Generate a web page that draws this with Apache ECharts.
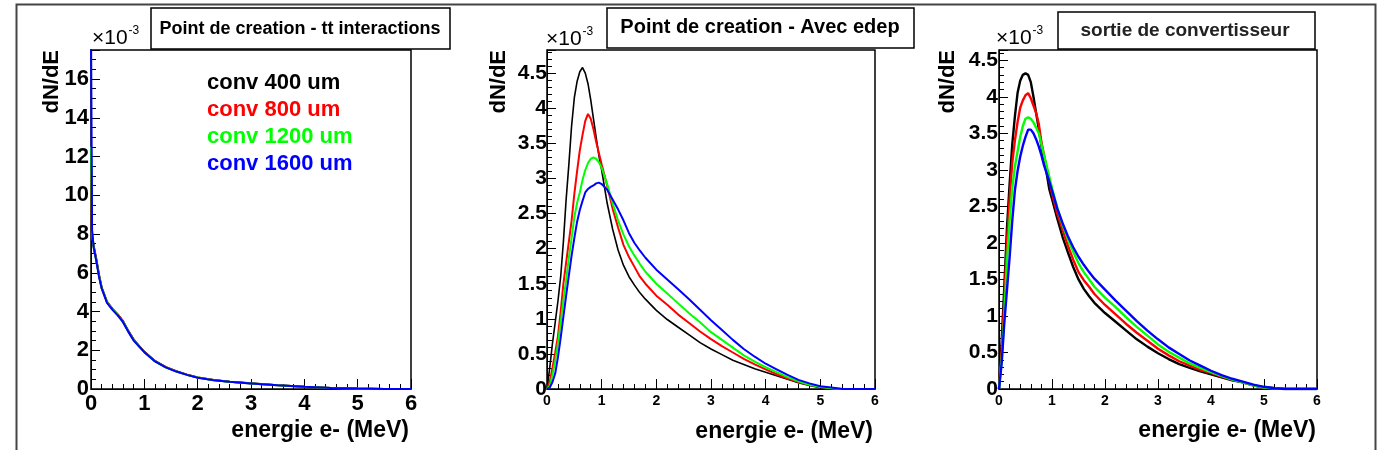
<!DOCTYPE html>
<html>
<head>
<meta charset="utf-8">
<script src="https://cdn.jsdelivr.net/npm/echarts@6/dist/echarts.min.js"></script>
<style>html,body{margin:0;padding:0;background:#fff;}#c{width:1378px;height:450px;}</style>
</head>
<body>
<div id="c"></div>
<script>
// ---------- DATA (values in units of 1e-3) ----------
const seriesNames = ['conv 400 um', 'conv 800 um', 'conv 1200 um', 'conv 1600 um'];
const seriesColors = ['#000000', '#ff0000', '#00ff00', '#0000ff'];
const panelTitles = ['Point de creation - tt interactions', 'Point de creation - Avec edep', 'sortie de convertisseur'];
const xTickLabels = ['0', '1', '2', '3', '4', '5', '6'];

// Panel 1 : Point de creation - tt interactions
const x1 = [0, 0.02, 0.05, 0.1, 0.15, 0.2, 0.3, 0.4, 0.5, 0.6, 0.7, 0.8, 0.9, 1.0, 1.2, 1.4, 1.6, 1.8, 2.0, 2.3, 2.6, 3.0, 3.5, 4.0, 4.5, 5.0, 5.5, 6.0];
const p1_400  = [12.3, 8.0, 7.4, 6.7, 5.9, 5.25, 4.5, 4.15, 3.85, 3.5, 3.0, 2.55, 2.22, 1.92, 1.45, 1.13, 0.92, 0.74, 0.6, 0.46, 0.38, 0.3, 0.2, 0.11, 0.05, 0.02, 0, 0];
const p1_800  = [11.3, 7.9, 7.35, 6.65, 5.85, 5.2, 4.5, 4.12, 3.85, 3.5, 2.98, 2.55, 2.22, 1.92, 1.44, 1.14, 0.91, 0.74, 0.59, 0.46, 0.37, 0.29, 0.19, 0.11, 0.05, 0.02, 0, 0];
const p1_1200 = [12.5, 8.1, 7.3, 6.6, 5.85, 5.2, 4.48, 4.12, 3.82, 3.47, 2.97, 2.52, 2.2, 1.9, 1.43, 1.12, 0.9, 0.73, 0.59, 0.45, 0.37, 0.29, 0.19, 0.11, 0.05, 0.02, 0, 0];
const p1_1600 = [19, 8.2, 7.3, 6.6, 5.8, 5.2, 4.45, 4.1, 3.8, 3.45, 2.95, 2.5, 2.2, 1.9, 1.42, 1.12, 0.9, 0.73, 0.58, 0.45, 0.37, 0.29, 0.19, 0.11, 0.05, 0.02, 0, 0];

// Panel 2 : Point de creation - Avec edep
const x2 = [0, 0.05, 0.1, 0.15, 0.2, 0.25, 0.3, 0.35, 0.4, 0.45, 0.5, 0.55, 0.6, 0.65, 0.7, 0.75, 0.8, 0.85, 0.9, 0.95, 1.0, 1.1, 1.2, 1.3, 1.4, 1.5, 1.6, 1.7, 1.8, 2.0, 2.2, 2.4, 2.6, 2.8, 3.0, 3.2, 3.4, 3.6, 3.8, 4.0, 4.2, 4.4, 4.6, 4.8, 5.0, 5.2, 5.4, 5.6, 6.0];
const p2_400  = [0, 0.3, 0.65, 0.95, 1.25, 1.6, 2.1, 2.7, 3.2, 3.75, 4.15, 4.38, 4.52, 4.58, 4.5, 4.35, 4.12, 3.85, 3.58, 3.32, 3.12, 2.65, 2.28, 1.98, 1.76, 1.6, 1.48, 1.37, 1.28, 1.12, 0.99, 0.88, 0.77, 0.66, 0.57, 0.49, 0.41, 0.35, 0.29, 0.24, 0.19, 0.14, 0.09, 0.05, 0.02, 0, 0, 0, 0];
const p2_800  = [0, 0.1, 0.3, 0.52, 0.75, 1.1, 1.5, 1.8, 2.1, 2.4, 2.78, 3.1, 3.4, 3.62, 3.82, 3.92, 3.85, 3.7, 3.52, 3.36, 3.2, 2.9, 2.57, 2.3, 2.05, 1.88, 1.74, 1.6, 1.5, 1.33, 1.2, 1.06, 0.94, 0.82, 0.71, 0.61, 0.52, 0.43, 0.35, 0.28, 0.21, 0.15, 0.1, 0.06, 0.03, 0.01, 0, 0, 0];
const p2_1200 = [0, 0.05, 0.2, 0.4, 0.65, 0.95, 1.27, 1.55, 1.87, 2.15, 2.45, 2.65, 2.8, 2.98, 3.12, 3.22, 3.28, 3.3, 3.28, 3.23, 3.15, 2.92, 2.65, 2.4, 2.2, 2.03, 1.9, 1.78, 1.67, 1.5, 1.36, 1.22, 1.08, 0.95, 0.81, 0.7, 0.59, 0.48, 0.39, 0.31, 0.24, 0.17, 0.11, 0.06, 0.03, 0.01, 0, 0, 0];
const p2_1600 = [0, 0.02, 0.1, 0.22, 0.45, 0.73, 1.03, 1.33, 1.62, 1.9, 2.15, 2.38, 2.55, 2.68, 2.8, 2.85, 2.88, 2.9, 2.93, 2.94, 2.92, 2.84, 2.7, 2.56, 2.4, 2.22, 2.08, 1.97, 1.87, 1.7, 1.56, 1.42, 1.28, 1.13, 0.98, 0.84, 0.7, 0.57, 0.46, 0.36, 0.28, 0.2, 0.13, 0.08, 0.04, 0.02, 0, 0, 0];

// Panel 3 : sortie de convertisseur
const x3 = [0, 0.05, 0.1, 0.15, 0.2, 0.25, 0.3, 0.35, 0.4, 0.45, 0.5, 0.55, 0.6, 0.65, 0.7, 0.75, 0.8, 0.85, 0.9, 0.95, 1.0, 1.1, 1.2, 1.3, 1.4, 1.5, 1.6, 1.7, 1.8, 2.0, 2.2, 2.4, 2.6, 2.8, 3.0, 3.2, 3.4, 3.6, 3.8, 4.0, 4.2, 4.4, 4.6, 4.8, 5.0, 5.2, 5.4, 5.6, 6.0];
const p3_400  = [0, 0.65, 1.4, 2.2, 2.8, 3.35, 3.73, 4.05, 4.22, 4.3, 4.32, 4.3, 4.2, 4.0, 3.78, 3.56, 3.33, 3.13, 2.95, 2.73, 2.6, 2.33, 2.08, 1.87, 1.67, 1.5, 1.37, 1.27, 1.18, 1.04, 0.92, 0.8, 0.68, 0.58, 0.49, 0.41, 0.34, 0.29, 0.24, 0.2, 0.16, 0.12, 0.09, 0.05, 0.02, 0.01, 0, 0, 0];
const p3_800  = [0, 0.5, 1.2, 2.0, 2.6, 3.1, 3.4, 3.65, 3.85, 3.95, 4.02, 4.05, 3.98, 3.88, 3.78, 3.63, 3.38, 3.2, 3.02, 2.85, 2.68, 2.4, 2.18, 1.96, 1.77, 1.6, 1.49, 1.4, 1.3, 1.15, 1.02, 0.89, 0.77, 0.66, 0.55, 0.46, 0.38, 0.32, 0.26, 0.22, 0.17, 0.13, 0.09, 0.05, 0.02, 0.01, 0, 0, 0];
const p3_1200 = [0, 0.4, 1.0, 1.75, 2.3, 2.75, 3.05, 3.25, 3.45, 3.6, 3.7, 3.72, 3.7, 3.65, 3.58, 3.5, 3.35, 3.2, 3.05, 2.9, 2.75, 2.48, 2.25, 2.05, 1.88, 1.72, 1.6, 1.5, 1.4, 1.25, 1.12, 0.98, 0.85, 0.73, 0.61, 0.51, 0.43, 0.35, 0.29, 0.23, 0.18, 0.13, 0.09, 0.05, 0.02, 0.01, 0, 0, 0];
const p3_1600 = [0, 0.35, 0.9, 1.35, 1.8, 2.3, 2.72, 2.98, 3.18, 3.33, 3.45, 3.55, 3.55, 3.5, 3.42, 3.32, 3.2, 3.06, 2.95, 2.84, 2.72, 2.47, 2.27, 2.09, 1.94, 1.81, 1.7, 1.6, 1.51, 1.36, 1.21, 1.07, 0.93, 0.8, 0.68, 0.57, 0.48, 0.39, 0.32, 0.25, 0.19, 0.14, 0.1, 0.06, 0.03, 0.01, 0, 0, 0];

// ---------- LAYOUT ----------
const FONT = '"Liberation Sans", Arial, Helvetica, sans-serif';
const grids = [
  {left: 91, top: 50, width: 320, height: 339},
  {left: 547, top: 50, width: 328, height: 339},
  {left: 999, top: 50, width: 318, height: 339}
];
const yMax = [17.5, 4.83, 4.64];
const yInterval = [2, 0.5, 0.5];
const yMinorSplit = [4, 5, 5];
const yLabelSize = [22, 21, 21];
const yLabelMargin = [2, 0, 1];
const xLabelSize = [22, 14, 14];
const xLabelMargin = [4, 5, 5];

const panels = [
  {x: x1, ys: [p1_400, p1_800, p1_1200, p1_1600], widths: [2, 2, 2, 2]},
  {x: x2, ys: [p2_400, p2_800, p2_1200, p2_1600], widths: [1.6, 2, 2, 2]},
  {x: x3, ys: [p3_400, p3_800, p3_1200, p3_1600], widths: [2.4, 2.4, 2.4, 2.4]}
];

const xAxes = grids.map((g, i) => ({
  type: 'value', gridIndex: i, min: 0, max: 6, interval: 1,
  axisLine: {show: true, onZero: false, lineStyle: {color: '#000', width: 1}},
  axisTick: {show: true, inside: true, length: 10, lineStyle: {color: '#000', width: 1}},
  minorTick: {show: true, splitNumber: 5, length: 5, lineStyle: {color: '#000', width: 1}},
  splitLine: {show: false}, minorSplitLine: {show: false},
  axisLabel: {show: true, margin: xLabelMargin[i], fontSize: xLabelSize[i], fontWeight: 'bold', color: '#000', fontFamily: FONT,
    formatter: v => xTickLabels[Math.round(v)] || ''}
}));

const yAxes = grids.map((g, i) => ({
  type: 'value', gridIndex: i, min: 0, max: yMax[i], interval: yInterval[i],
  axisLine: {show: true, onZero: false, lineStyle: {color: '#000', width: 1}},
  axisTick: {show: true, inside: true, length: 9, lineStyle: {color: '#000', width: 1}},
  minorTick: {show: true, splitNumber: yMinorSplit[i], length: 5, lineStyle: {color: '#000', width: 1}},
  splitLine: {show: false}, minorSplitLine: {show: false},
  axisLabel: {show: true, margin: yLabelMargin[i], fontSize: yLabelSize[i], fontWeight: 'bold', color: '#000', fontFamily: FONT, showMaxLabel: false}
}));

const series = [];
panels.forEach((p, pi) => {
  p.ys.forEach((ys, si) => {
    series.push({
      type: 'line', name: seriesNames[si], xAxisIndex: pi, yAxisIndex: pi,
      data: p.x.map((x, k) => [x, ys[k]]),
      showSymbol: false, symbol: 'none', smooth: false, clip: true,
      lineStyle: {color: seriesColors[si], width: p.widths[si]},
      itemStyle: {color: seriesColors[si]},
      z: 2 + si, animation: false, emphasis: {disabled: true}
    });
  });
});

// ---------- TEXT / DECORATION ----------
const titleBoxes = [
  {x: 151, y: 8, w: 299, h: 41, cx: 300, cy: 29, size: 18, color: '#000'},
  {x: 607, y: 8, w: 307, h: 40, cx: 760, cy: 27, size: 20, color: '#000'},
  {x: 1058, y: 12, w: 257, h: 37, cx: 1185, cy: 31, size: 19, color: '#222'}
];
const expPos = [{x: 92, y: 37}, {x: 546, y: 38}, {x: 996, y: 37}];
const yNamePos = [{x: 52, y: 50}, {x: 499, y: 50}, {x: 948, y: 50}];
const xNamePos = [{x: 409, y: 431}, {x: 873, y: 432}, {x: 1316, y: 431}];

const graphic = [
  {type: 'rect', left: 14, top: 2, shape: {x: 0, y: 0, width: 1359, height: 460}, style: {fill: 'none', stroke: '#444', lineWidth: 2}, silent: true, z: 100}
];
titleBoxes.forEach((t, i) => {
  graphic.push({type: 'rect', shape: {x: t.x, y: t.y, width: t.w, height: t.h}, style: {fill: '#fff', stroke: '#000', lineWidth: 1.5}, z: 50});
  graphic.push({type: 'text', x: t.cx, y: t.cy, z: 51, style: {text: panelTitles[i], fill: t.color, font: 'bold ' + t.size + 'px ' + FONT, textAlign: 'center', textVerticalAlign: 'middle'}});
});
expPos.forEach(p => {
  graphic.push({type: 'text', x: p.x, y: p.y, z: 52, style: {
    text: '{a|×10}{b|-3}', textVerticalAlign: 'middle',
    rich: {a: {fontSize: 21, fontFamily: FONT, fill: '#000', verticalAlign: 'bottom'},
           b: {fontSize: 12, fontFamily: FONT, fill: '#000', verticalAlign: 'top', padding: [0, 0, 12, 1]}}
  }});
});
yNamePos.forEach(p => {
  graphic.push({type: 'text', x: p.x, y: p.y, rotation: Math.PI / 2, z: 52, style: {
    text: 'dN/dE', fill: '#000', font: 'bold 22px ' + FONT, textAlign: 'right', textVerticalAlign: 'middle'}});
});
xNamePos.forEach(p => {
  graphic.push({type: 'text', x: p.x, y: p.y, z: 52, style: {
    text: 'energie e- (MeV)', fill: '#000', font: 'bold 23px ' + FONT, textAlign: 'right', textVerticalAlign: 'middle'}});
});

const chart = echarts.init(document.getElementById('c'), null, {renderer: 'canvas'});
chart.setOption({
  backgroundColor: '#fff',
  animation: false,
  grid: grids.map(g => Object.assign({show: true, borderColor: '#000', borderWidth: 1.5, backgroundColor: 'transparent', containLabel: false, outerBoundsMode: 'none'}, g)),
  xAxis: xAxes,
  yAxis: yAxes,
  legend: {
    show: true, orient: 'vertical', left: 197, top: 67, itemGap: 5, itemWidth: 0, itemHeight: 0, icon: 'rect',
    selectedMode: false,
    textStyle: {fontSize: 22, fontWeight: 'bold', fontFamily: FONT, lineHeight: 22, padding: 0},
    data: seriesNames.map((n, i) => ({name: n, textStyle: {color: seriesColors[i]}}))
  },
  tooltip: {show: false},
  series: series,
  graphic: graphic
});
</script>
</body>
</html>
